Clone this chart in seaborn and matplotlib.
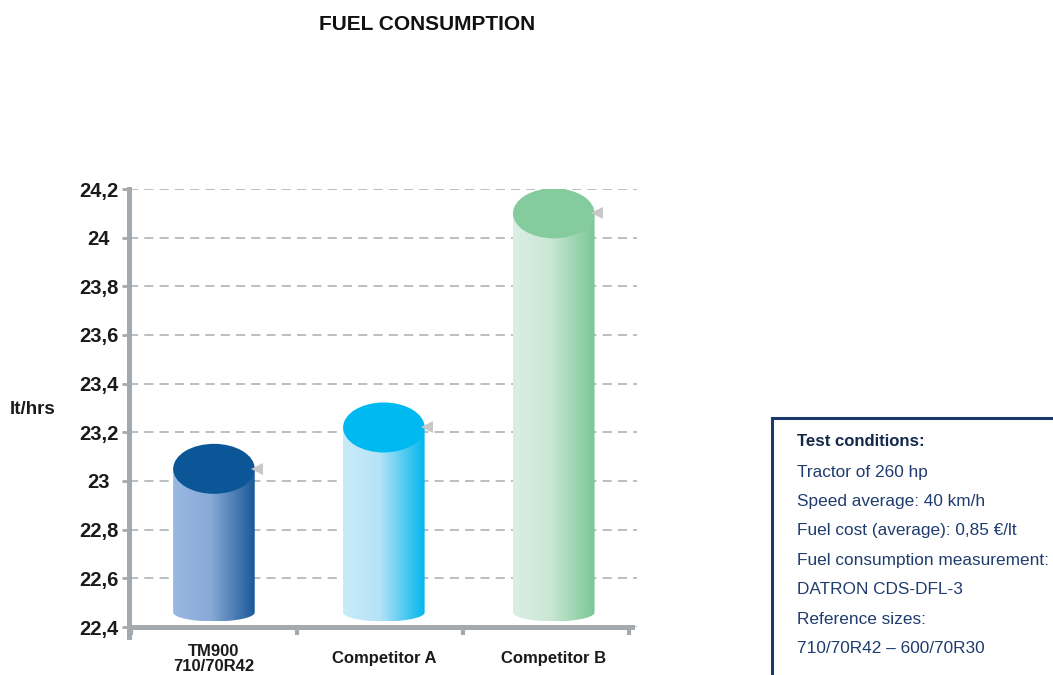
import numpy as np
import pandas as pd
import matplotlib
matplotlib.use("Agg")
import matplotlib.pyplot as plt
import seaborn as sns
from matplotlib.colors import LinearSegmentedColormap
from matplotlib.patches import Ellipse, PathPatch, Rectangle
from matplotlib.path import Path

# ---------------- data ----------------
categories = ["TM900\n710/70R42", "Competitor A", "Competitor B"]
values = [23.05, 23.22, 24.10]
ytick_values = [22.4, 22.6, 22.8, 23.0, 23.2, 23.4, 23.6, 23.8, 24.0, 24.2]
ytick_labels = ["22,4", "22,6", "22,8", "23", "23,2", "23,4", "23,6", "23,8", "24", "24,2"]
title = "FUEL CONSUMPTION"
ylabel = "lt/hrs"
note_title = "Test conditions:"
note_lines = [
    "Tractor of 260 hp",
    "Speed average: 40 km/h",
    "Fuel cost (average): 0,85 \u20ac/lt",
    "Fuel consumption measurement:",
    "DATRON CDS-DFL-3",
    "Reference sizes:",
    "710/70R42 \u2013 600/70R30",
]

# ---------------- styles ----------------
top_colors = ["#0b5697", "#00b9f0", "#84cb9d"]
body_stops = [
    ("#98b8e2", "#8aabd7", "#1a5898"),
    ("#c9ebf9", "#b5e3f6", "#00b6ee"),
    ("#dbeee3", "#cbe7d6", "#7bc796"),
]
axis_gray = "#a4a9ae"
grid_gray = "#aaaeb2"
base_value = 22.46
ellipse_h = 0.2055
bottom_depth = 0.037

sns.set_theme(style="white")
plt.rcParams["font.family"] = ["Liberation Sans", "DejaVu Sans"]

W, H = 1053, 675
fig = plt.figure(figsize=(W / 100, H / 100), dpi=100)
fig.patch.set_facecolor("white")
ax = fig.add_axes([129 / W, 1 - 627 / H, (637 - 129) / W, (627 - 189) / H])
ax.set_facecolor("white")

df = pd.DataFrame({"cat": categories, "val": values})
sns.barplot(data=df, x="cat", y="val", order=categories, width=0.48,
            color="#cccccc", ax=ax, errorbar=None)

ax.set_ylim(22.4, 24.2)
ax.set_xlim(-0.5, 2.49)

bars = list(ax.patches)
for i, p in enumerate(bars):
    x0 = p.get_x()
    w = p.get_width()
    top = p.get_y() + p.get_height()
    x1 = x0 + w
    xc = x0 + w / 2
    p.set_visible(False)

    t = np.linspace(np.pi, 2 * np.pi, 60)
    verts = [(x0, top), (x0, base_value)]
    verts += [(xc + (w / 2) * np.cos(a), base_value + bottom_depth * np.sin(a)) for a in t]
    verts += [(x1, base_value), (x1, top), (x0, top)]
    codes = [Path.MOVETO] + [Path.LINETO] * (len(verts) - 2) + [Path.CLOSEPOLY]
    clip = PathPatch(Path(verts, codes), transform=ax.transData,
                     facecolor="none", edgecolor="none")
    ax.add_patch(clip)

    c0, c1, c2 = body_stops[i]
    cmap = LinearSegmentedColormap.from_list(f"g{i}", [(0, c0), (0.45, c1), (1, c2)])
    grad = np.linspace(0, 1, 256).reshape(1, -1)
    im = ax.imshow(grad, extent=[x0, x1, base_value - bottom_depth, top],
                   cmap=cmap, aspect="auto", zorder=2, interpolation="bicubic")
    im.set_clip_path(clip)

    ax.add_patch(Ellipse((xc, top), w, ellipse_h, facecolor=top_colors[i],
                         edgecolor="none", zorder=3))
    ax.plot([x1 + 0.015], [top], marker="<", ms=8, color="#c8c8c8",
            markeredgewidth=0, zorder=4, clip_on=False)

ax.set_ylim(22.4, 24.2)
ax.set_xlim(-0.5, 2.49)

# grid
ax.set_yticks(ytick_values)
ax.set_yticklabels(ytick_labels)
ax.yaxis.grid(True, color=grid_gray, linestyle=(0, (6, 4)), linewidth=1.1)
ax.xaxis.grid(False)
ax.set_axisbelow(True)

# spines
for s in ["top", "right"]:
    ax.spines[s].set_visible(False)
for s in ["left", "bottom"]:
    ax.spines[s].set_color(axis_gray)
    ax.spines[s].set_linewidth(3.6)
ax.spines["left"].set_bounds(22.36, 24.2)
ax.spines["bottom"].set_bounds(-0.5, 2.46)

# ticks
ax.set_xticks([0, 1, 2])
ax.set_xticklabels(categories)
ax.set_xticks([-0.488, 0.488, 1.465, 2.44], minor=True)
ax.tick_params(axis="x", which="major", length=0, pad=23, labelsize=12)
ax.tick_params(axis="x", which="minor", length=5.5, width=3, color=axis_gray,
               direction="out", bottom=True)
ax.tick_params(axis="y", length=5, width=2, color=axis_gray, direction="out",
               pad=17, labelsize=14.5, left=True)
for lab in ax.get_xticklabels():
    lab.set_fontweight("bold")
    lab.set_color("#1a1a1a")
    lab.set_va("center")
    lab.set_linespacing(1.05)
for lab in ax.get_yticklabels():
    lab.set_fontweight("bold")
    lab.set_color("#1a1a1a")
    lab.set_ha("center")
ax.set_xlabel("")
ax.set_ylabel("")

# texts
fig.text(427 / W, 1 - 24 / H, title, ha="center", va="center",
         fontsize=15, fontweight="bold", color="#111111")
fig.text(33 / W, 1 - 410 / H, ylabel, ha="center", va="center",
         fontsize=13.5, fontweight="bold", color="#1a1a1a")

# note box
fig.patches.append(Rectangle((772 / W, -0.05), 0.4, (675 - 418) / H + 0.05,
                             transform=fig.transFigure, fill=False,
                             edgecolor="#1b3a6b", linewidth=2.2))
fig.text(797 / W, 1 - 442 / H, note_title, ha="left", va="center",
         fontsize=12.1, fontweight="bold", color="#14284b")
for k, line in enumerate(note_lines):
    yy = 472 + k * 29.4
    fig.text(797 / W, 1 - yy / H, line, ha="left", va="center",
             fontsize=12.4, color="#1f3c6e")

fig.savefig("out.png", dpi=100)
